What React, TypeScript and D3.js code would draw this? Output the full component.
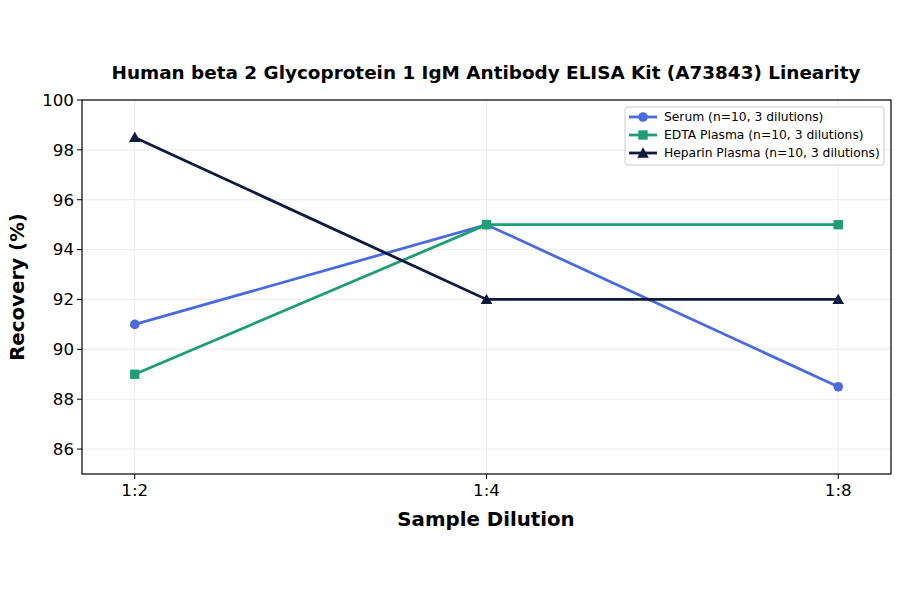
import React from "react";
import * as d3 from "d3";

const categories = ["1:2", "1:4", "1:8"];
const serum = [91, 95, 88.5];
const edta = [89, 95, 95];
const heparin = [98.5, 92, 92];
const yTicks = [86, 88, 90, 92, 94, 96, 98, 100];
const seriesNames = [
  "Serum (n=10, 3 dilutions)",
  "EDTA Plasma (n=10, 3 dilutions)",
  "Heparin Plasma (n=10, 3 dilutions)",
];
const colors = ["#4a6bdc", "#1f9e76", "#0e1a3e"];
const markers = ["circle", "square", "triangle"];

const W = 900, H = 594;
const L = 82, R = 891, T = 100, B = 474;
const FONT = "DejaVu Sans, sans-serif";

function Marker({ kind, x, y, color }: { kind: string; x: number; y: number; color: string }) {
  if (kind === "circle") return <circle cx={x} cy={y} r={4.8} fill={color} />;
  if (kind === "square") return <rect x={x - 4.7} y={y - 4.7} width={9.4} height={9.4} fill={color} />;
  const s = 5.8;
  return <path d={`M${x},${y - s}L${x + s},${y + s * 0.8}L${x - s},${y + s * 0.8}Z`} fill={color} />;
}

export default function App() {
  const x = d3.scaleLinear().domain([-0.15, 2.15]).range([L, R]);
  const y = d3.scaleLinear().domain([85, 100]).range([B, T]);
  const data = [serum, edta, heparin];
  const line = d3
    .line<number>()
    .x((_, i) => x(i))
    .y((d) => y(d));
  return (
    <svg width={W} height={H} style={{ position: "absolute", left: 0, top: 0, background: "#fff" }} fontFamily={FONT}>
      <rect width={W} height={H} fill="#fff" />
      {yTicks.map((t) => (
        <line key={"gy" + t} x1={L} x2={R} y1={y(t)} y2={y(t)} stroke="#e6e6e6" strokeWidth={0.8} />
      ))}
      {categories.map((c, i) => (
        <line key={"gx" + c} x1={x(i)} x2={x(i)} y1={T} y2={B} stroke="#e6e6e6" strokeWidth={0.8} />
      ))}
      {data.map((d, si) => (
        <g key={si}>
          <path d={line(d) || ""} fill="none" stroke={colors[si]} strokeWidth={2.8} />
          {d.map((v, i) => (
            <Marker key={i} kind={markers[si]} x={x(i)} y={y(v)} color={colors[si]} />
          ))}
        </g>
      ))}
      <rect x={L} y={T} width={R - L} height={B - T} fill="none" stroke="#000" strokeWidth={1.2} />
      {yTicks.map((t) => (
        <g key={"ty" + t}>
          <line x1={L - 5} x2={L} y1={y(t)} y2={y(t)} stroke="#000" strokeWidth={1} />
          <text x={L - 8} y={y(t)} dy="0.35em" textAnchor="end" fontSize={16.7} fill="#000">
            {t}
          </text>
        </g>
      ))}
      {categories.map((c, i) => (
        <g key={"tx" + c}>
          <line x1={x(i)} x2={x(i)} y1={B} y2={B + 5} stroke="#000" strokeWidth={1} />
          <text x={x(i)} y={B + 22} textAnchor="middle" fontSize={16.7} fill="#000">
            {c}
          </text>
        </g>
      ))}
      <text x={486} y={526} textAnchor="middle" fontSize={19.8} fontWeight="bold">
        Sample Dilution
      </text>
      <text transform={`translate(24,${(T + B) / 2}) rotate(-90)`} textAnchor="middle" fontSize={19.8} fontWeight="bold">
        Recovery (%)
      </text>
      <text x={486} y={79} textAnchor="middle" fontSize={18.4} fontWeight="bold">
        Human beta 2 Glycoprotein 1 IgM Antibody ELISA Kit (A73843) Linearity
      </text>
      <rect x={625} y={107} width={259} height={58} rx={3} fill="#fff" fillOpacity={0.8} stroke="#ccc" strokeWidth={1} />
      {seriesNames.map((n, i) => {
        const ly = 117 + i * 18;
        return (
          <g key={n}>
            <line x1={629} x2={657} y1={ly} y2={ly} stroke={colors[i]} strokeWidth={2.8} />
            <Marker kind={markers[i]} x={643} y={ly} color={colors[i]} />
            <text x={664} y={ly} dy="0.35em" fontSize={12.3} fill="#000">
              {n}
            </text>
          </g>
        );
      })}
    </svg>
  );
}
